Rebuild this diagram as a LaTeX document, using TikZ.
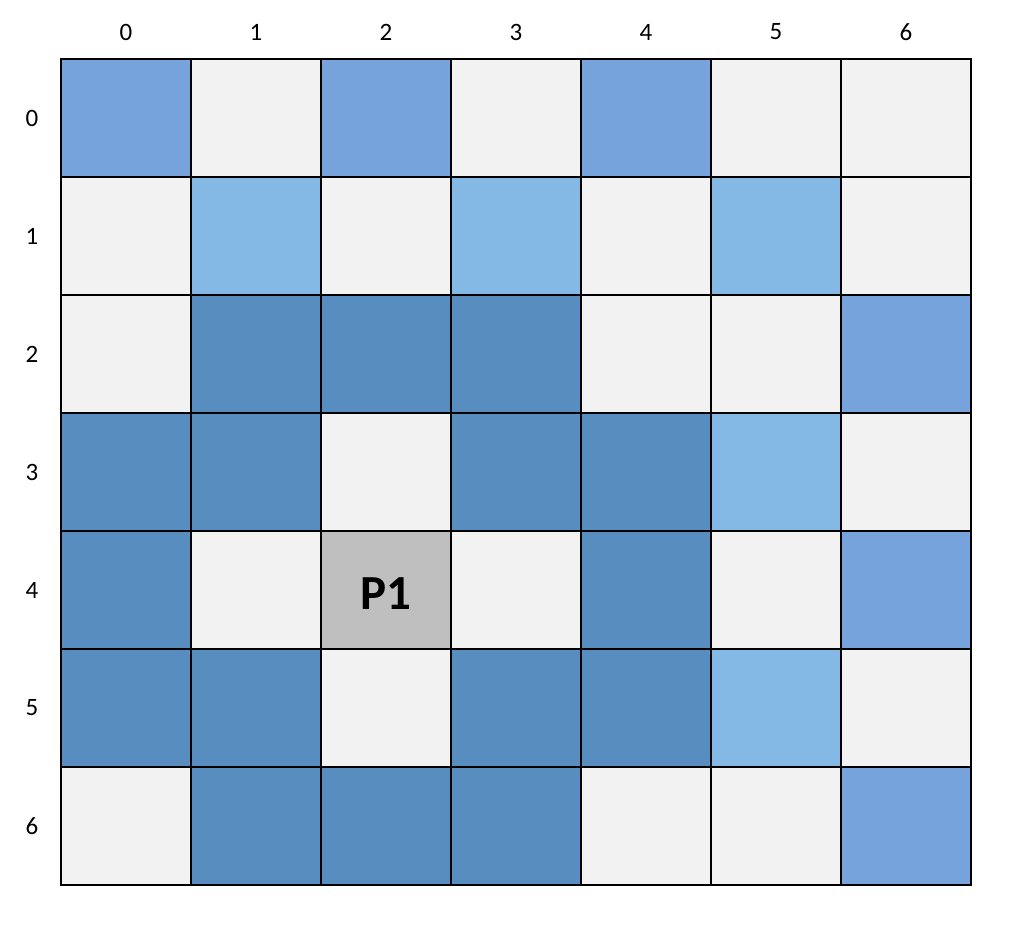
\documentclass[tikz,border=0pt]{standalone}
\usepackage{fontspec}
\setmainfont{Carlito}
\usepackage{tikz}
\usetikzlibrary{positioning}
\definecolor{cdark}{RGB}{88,141,191}
\definecolor{cmid}{RGB}{118,163,219}
\definecolor{clight}{RGB}{132,185,230}
\definecolor{cempty}{RGB}{242,242,242}
\definecolor{cplayer}{RGB}{191,191,191}

\begin{document}
\begin{tikzpicture}[x=1pt,y=-1pt,
 cell/.style={draw,line width=2pt,minimum width=130pt,minimum height=118pt,inner sep=0pt},
 D/.style={cell,fill=cdark},
 M/.style={cell,fill=cmid},
 L/.style={cell,fill=clight},
 E/.style={cell,fill=cempty},
 P/.style={cell,fill=cplayer},
 idx/.style={font=\fontsize{25}{25}\selectfont}]
\useasboundingbox (0,0) rectangle (1010,928);
% board, one row per line
\foreach \r/\row in {0/{M,E,M,E,M,E,E},
                     1/{E,L,E,L,E,L,E},
                     2/{E,D,D,D,E,E,M},
                     3/{D,D,E,D,D,L,E},
                     4/{D,E,P,E,D,E,M},
                     5/{D,D,E,D,D,L,E},
                     6/{E,D,D,D,E,E,M}}{
  \foreach \k [count=\c from 0] in \row
    \node[\k] (cell-\r-\c) at (126+130*\c,118+118*\r) {};
}
\node[yshift=-4pt] (p1) at (cell-4-2) {\fontsize{49}{49}\selectfont\bfseries P1};
% indices
\foreach \i in {0,...,6}{
  \node[idx] (col-\i) at (126+130*\i,32) {\i};
  \node[idx] (row-\i) at (32,118+118*\i) {\i};
}
\end{tikzpicture}
\end{document}
